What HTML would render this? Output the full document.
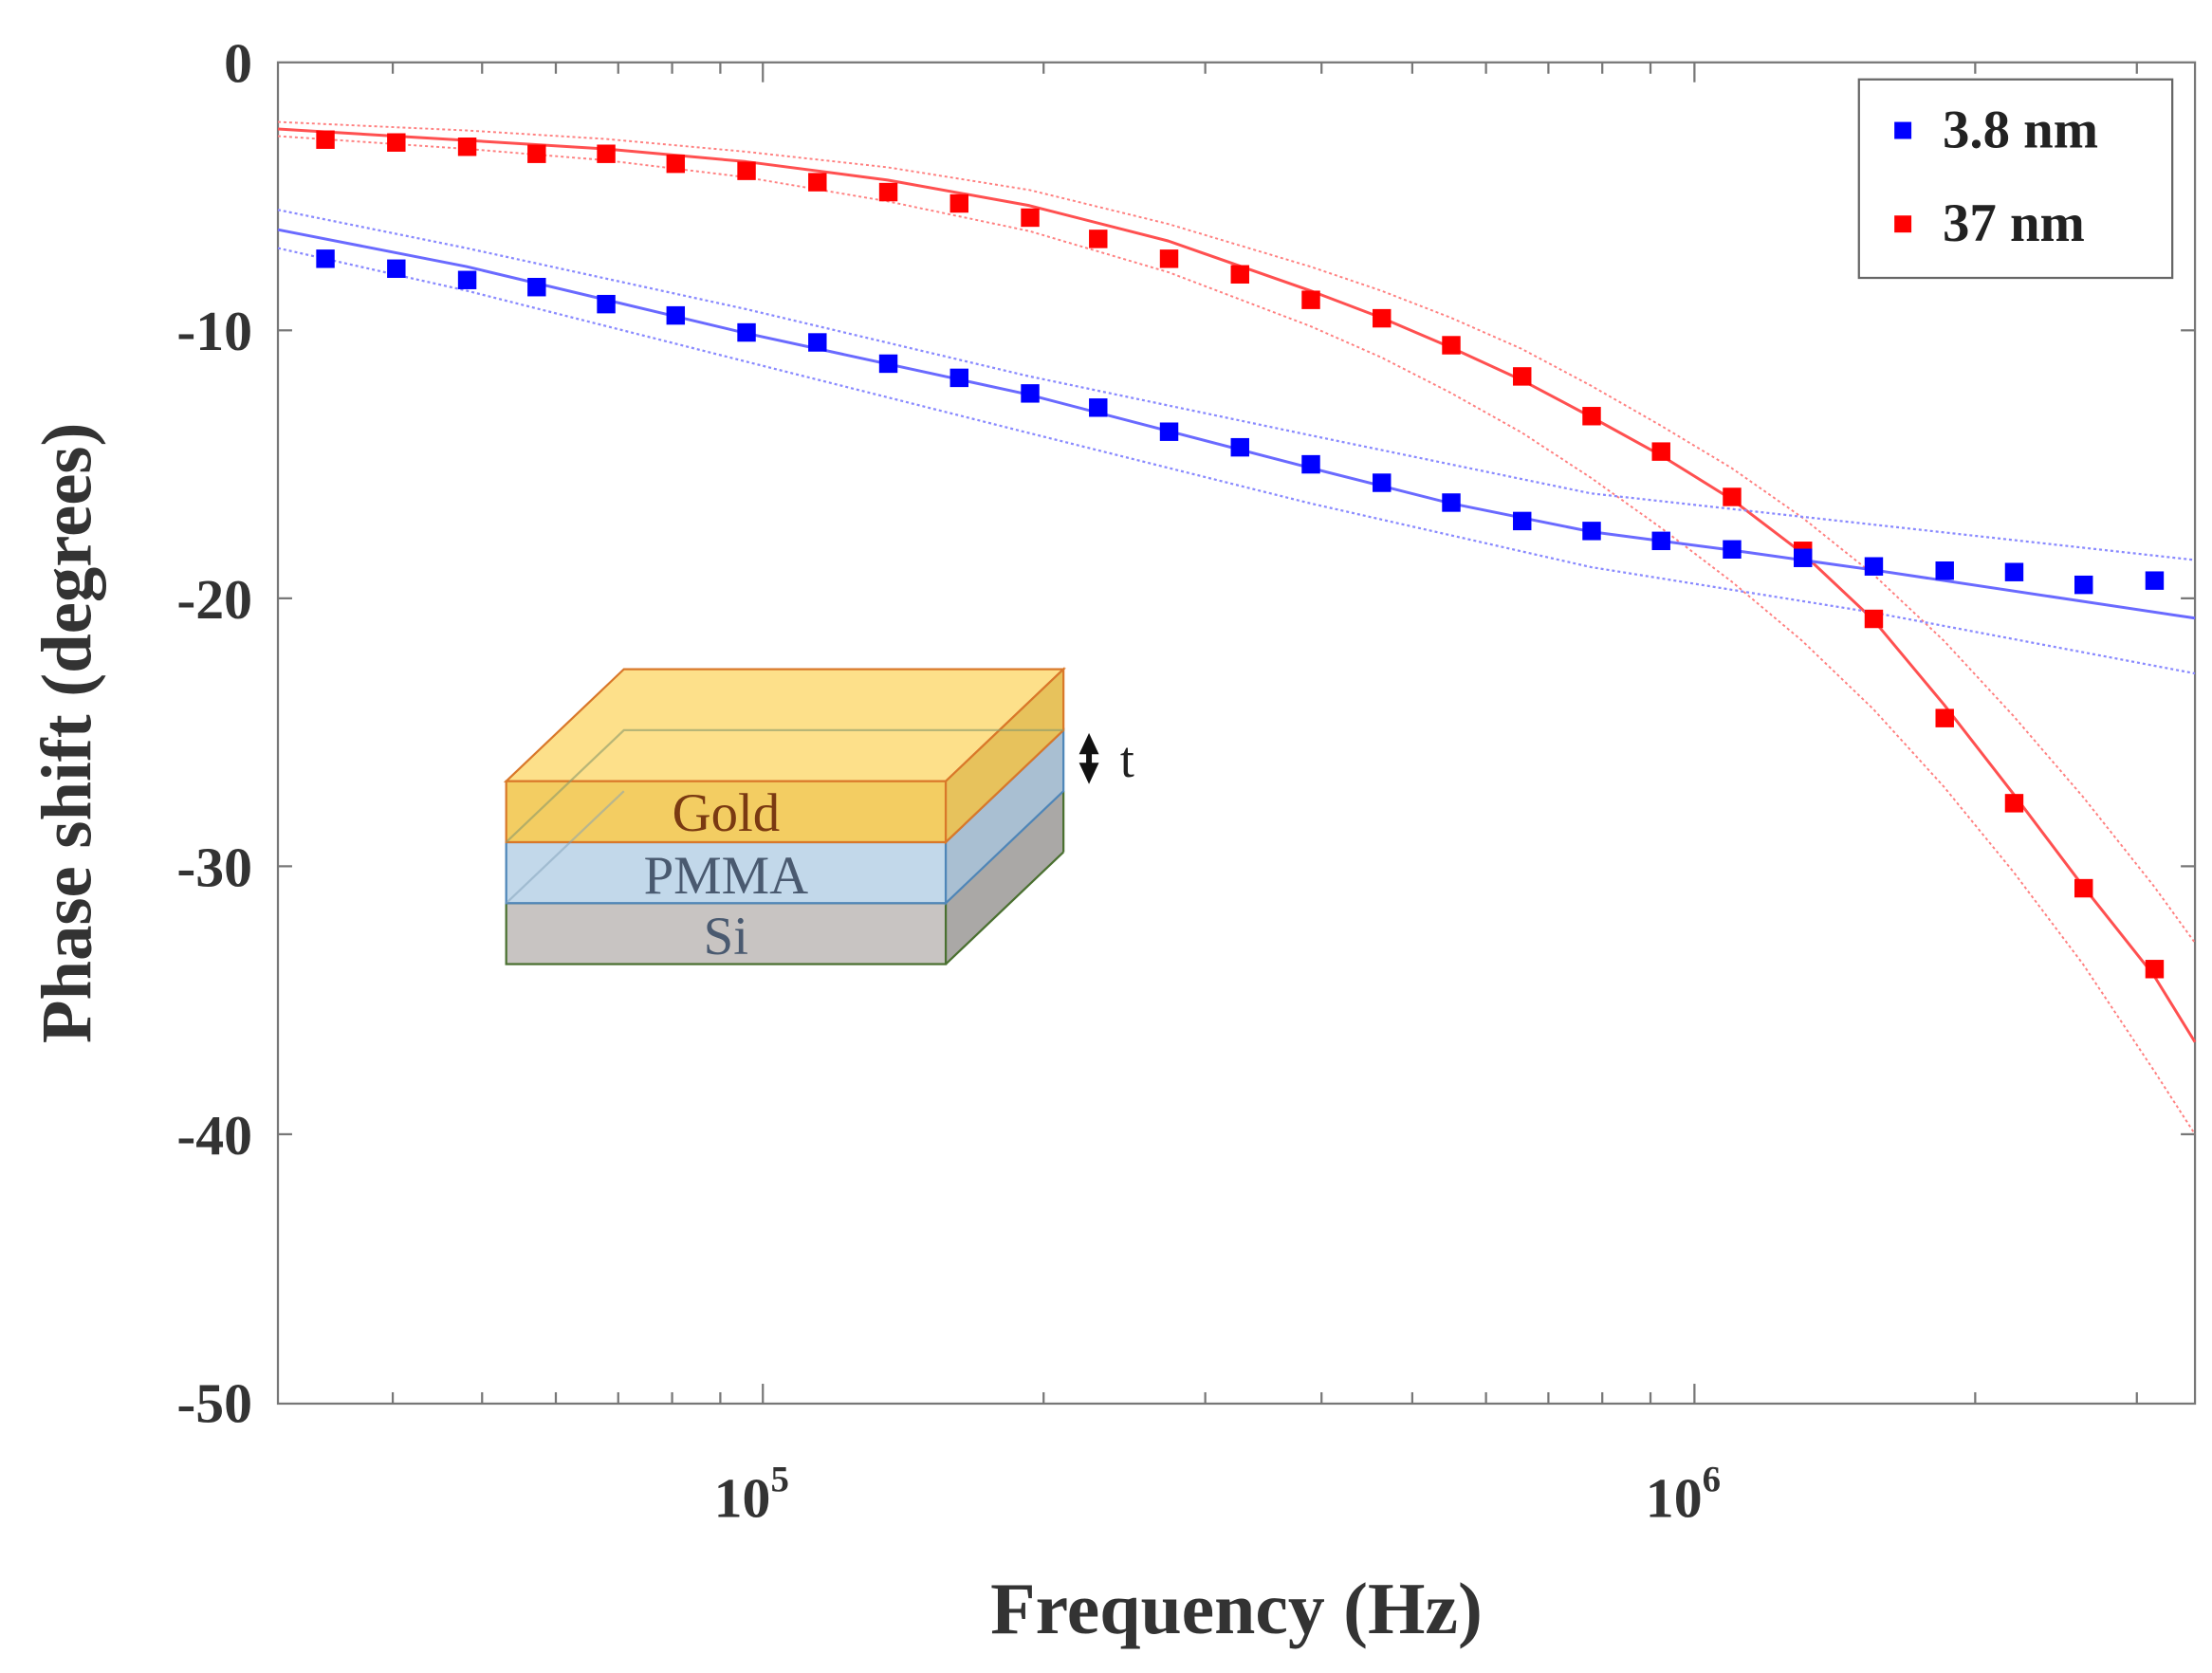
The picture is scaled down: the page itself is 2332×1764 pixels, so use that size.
<!DOCTYPE html>
<html><head><meta charset="utf-8"><style>
html,body{margin:0;padding:0;background:#fff;}
svg{display:block;}
text{font-family:"Liberation Serif",serif;font-weight:bold;fill:#333;}
</style></head><body>
<svg width="2332" height="1764" viewBox="0 0 1560 1180" preserveAspectRatio="none" xmlns="http://www.w3.org/2000/svg">
<rect x="0" y="0" width="1560" height="1180" fill="#fff"/>
<rect x="196" y="44" width="1352" height="946" fill="none" stroke="#777" stroke-width="1.5"/>
<g stroke="#777" stroke-width="1.5">
<line x1="196" y1="233" x2="206" y2="233"/><line x1="196" y1="422" x2="206" y2="422"/><line x1="196" y1="611" x2="206" y2="611"/><line x1="196" y1="800" x2="206" y2="800"/>
<line x1="1538" y1="233" x2="1548" y2="233"/><line x1="1538" y1="422" x2="1548" y2="422"/><line x1="1538" y1="611" x2="1548" y2="611"/><line x1="1538" y1="800" x2="1548" y2="800"/>
<line x1="538" y1="990" x2="538" y2="976"/><line x1="1195" y1="990" x2="1195" y2="976"/>
<line x1="538" y1="44" x2="538" y2="58"/><line x1="1195" y1="44" x2="1195" y2="58"/>
<line x1="277" y1="990" x2="277" y2="982"/><line x1="340" y1="990" x2="340" y2="982"/><line x1="392" y1="990" x2="392" y2="982"/><line x1="436" y1="990" x2="436" y2="982"/><line x1="474" y1="990" x2="474" y2="982"/><line x1="508" y1="990" x2="508" y2="982"/>
<line x1="736" y1="990" x2="736" y2="982"/><line x1="850" y1="990" x2="850" y2="982"/><line x1="932" y1="990" x2="932" y2="982"/><line x1="996" y1="990" x2="996" y2="982"/><line x1="1048" y1="990" x2="1048" y2="982"/><line x1="1092" y1="990" x2="1092" y2="982"/><line x1="1130" y1="990" x2="1130" y2="982"/><line x1="1164" y1="990" x2="1164" y2="982"/>
<line x1="1393" y1="990" x2="1393" y2="982"/><line x1="1507" y1="990" x2="1507" y2="982"/>
<line x1="277" y1="44" x2="277" y2="52"/><line x1="340" y1="44" x2="340" y2="52"/><line x1="392" y1="44" x2="392" y2="52"/><line x1="436" y1="44" x2="436" y2="52"/><line x1="474" y1="44" x2="474" y2="52"/><line x1="508" y1="44" x2="508" y2="52"/>
<line x1="736" y1="44" x2="736" y2="52"/><line x1="850" y1="44" x2="850" y2="52"/><line x1="932" y1="44" x2="932" y2="52"/><line x1="996" y1="44" x2="996" y2="52"/><line x1="1048" y1="44" x2="1048" y2="52"/><line x1="1092" y1="44" x2="1092" y2="52"/><line x1="1130" y1="44" x2="1130" y2="52"/><line x1="1164" y1="44" x2="1164" y2="52"/>
<line x1="1393" y1="44" x2="1393" y2="52"/><line x1="1507" y1="44" x2="1507" y2="52"/>
</g>
<g font-size="40" text-anchor="end">
<text x="178" y="58">0</text>
<text x="178" y="247">-10</text>
<text x="178" y="436">-20</text>
<text x="178" y="625">-30</text>
<text x="178" y="814">-40</text>
<text x="178" y="1003">-50</text>
</g>
<g font-size="40" text-anchor="middle">
<text x="530" y="1070">10<tspan font-size="26" dy="-18">5</tspan></text>
<text x="1187" y="1070">10<tspan font-size="26" dy="-18">6</tspan></text>
</g>
<text x="872" y="1152" font-size="52" text-anchor="middle">Frequency (Hz)</text>
<text transform="translate(64,517) rotate(-90)" font-size="50" text-anchor="middle">Phase shift (degrees)</text>

<g stroke-width="1.5">
<polygon points="357,680 667,680 750,601 750,558 667,637 357,637" fill="#c4c0bd" stroke="none"/>
<polygon points="667,637 750,558 750,601 667,680" fill="#aaa8a6"/>
<rect x="357" y="637" width="310" height="43" fill="#c8c4c2" stroke="#4a7030"/>
<line x1="667" y1="680" x2="750" y2="601" stroke="#4a7030"/><line x1="750" y1="601" x2="750" y2="558" stroke="#4a7030"/>
<rect x="357" y="594" width="310" height="43" fill="#c2d8ea" stroke="#4f86b8"/>
<polygon points="667,594 750,515 750,558 667,637" fill="#a9bfd2" stroke="#4f86b8"/>
<polygon points="357,551 440,472 750,472 667,551" fill="#fde08a" stroke="#d9782a"/>
<rect x="357" y="551" width="310" height="43" fill="#f3cd62" stroke="#d9782a"/>
<polygon points="667,551 750,472 750,515 667,594" fill="#e7c25c" stroke="#d9782a"/>
<polyline points="357,594 440,515 750,515" fill="none" stroke="#8a9a6a" stroke-opacity="0.6"/>
<line x1="357" y1="637" x2="440" y2="558" stroke="#7f9fb8" stroke-opacity="0.5"/>
</g>
<text x="512" y="586" font-size="38" text-anchor="middle" style="fill:#7a3a12;font-weight:normal">Gold</text>
<text x="512" y="630" font-size="38" text-anchor="middle" style="fill:#4a5a70;font-weight:normal">PMMA</text>
<text x="512" y="673" font-size="38" text-anchor="middle" style="fill:#4a5a70;font-weight:normal">Si</text>
<polygon points="768,517 761,532 775,532" fill="#111"/>
<polygon points="768,553 761,538 775,538" fill="#111"/>
<rect x="766" y="530" width="4" height="10" fill="#111"/>
<text x="790" y="548" font-size="36" style="fill:#222;font-weight:normal">t</text>

<g fill="none" stroke-linejoin="round">
<polyline stroke="#ff8080" stroke-width="1.3" stroke-dasharray="2,2" points="196,86 329,92 427,98 526,107 626,118 726,134 824,158 924,188 974,205 1023,224 1073,246 1122,272 1171,300 1221,330 1271,365 1321,405 1371,452 1420,505 1469,562 1519,625 1548,665"/>
<polyline stroke="#ff8080" stroke-width="1.3" stroke-dasharray="2,2" points="196,96 329,105 427,113 526,125 626,142 726,163 824,192 924,230 974,252 1023,277 1073,305 1122,337 1171,372 1221,410 1271,452 1321,500 1371,555 1420,615 1469,680 1519,755 1548,800"/>
<polyline stroke="#ff5050" stroke-width="2" points="196,91 229,93 329,99 427,105 526,114 626,127 726,145 824,170 924,205 974,224 1023,245 1073,268 1122,294 1171,321 1221,352 1271,390 1321,437 1371,497 1420,560 1469,625 1519,688 1548,735"/>
<polyline stroke="#8a8aff" stroke-width="1.5" stroke-dasharray="2,2" points="196,148 329,175 526,218 724,265 924,307 1122,348 1321,370 1548,395"/>
<polyline stroke="#8a8aff" stroke-width="1.5" stroke-dasharray="2,2" points="196,175 329,205 526,255 724,305 924,355 1122,400 1321,432 1548,475"/>
<polyline stroke="#6a6aff" stroke-width="2" points="196,162 329,188 526,235 724,278 924,330 1023,355 1122,375 1221,388 1321,402 1548,436"/>
</g>
<g fill="#ff0000">
<rect x="223" y="92" width="13" height="13"/><rect x="273" y="94" width="13" height="13"/><rect x="323" y="97" width="13" height="13"/><rect x="372" y="102" width="13" height="13"/><rect x="421" y="102" width="13" height="13"/><rect x="470" y="109" width="13" height="13"/><rect x="520" y="114" width="13" height="13"/><rect x="570" y="122" width="13" height="13"/><rect x="620" y="129" width="13" height="13"/><rect x="670" y="137" width="13" height="13"/><rect x="720" y="147" width="13" height="13"/><rect x="768" y="162" width="13" height="13"/><rect x="818" y="176" width="13" height="13"/><rect x="868" y="187" width="13" height="13"/><rect x="918" y="205" width="13" height="13"/><rect x="968" y="218" width="13" height="13"/><rect x="1017" y="237" width="13" height="13"/><rect x="1067" y="259" width="13" height="13"/><rect x="1116" y="287" width="13" height="13"/><rect x="1165" y="312" width="13" height="13"/><rect x="1215" y="344" width="13" height="13"/><rect x="1265" y="382" width="13" height="13"/><rect x="1315" y="430" width="13" height="13"/><rect x="1365" y="500" width="13" height="13"/><rect x="1414" y="560" width="13" height="13"/><rect x="1463" y="620" width="13" height="13"/><rect x="1513" y="677" width="13" height="13"/>
</g>
<g fill="#0000ff">
<rect x="223" y="176" width="13" height="13"/><rect x="273" y="183" width="13" height="13"/><rect x="323" y="191" width="13" height="13"/><rect x="372" y="196" width="13" height="13"/><rect x="421" y="208" width="13" height="13"/><rect x="470" y="216" width="13" height="13"/><rect x="520" y="228" width="13" height="13"/><rect x="570" y="235" width="13" height="13"/><rect x="620" y="250" width="13" height="13"/><rect x="670" y="260" width="13" height="13"/><rect x="720" y="271" width="13" height="13"/><rect x="768" y="281" width="13" height="13"/><rect x="818" y="298" width="13" height="13"/><rect x="868" y="309" width="13" height="13"/><rect x="918" y="321" width="13" height="13"/><rect x="968" y="334" width="13" height="13"/><rect x="1017" y="348" width="13" height="13"/><rect x="1067" y="361" width="13" height="13"/><rect x="1116" y="368" width="13" height="13"/><rect x="1165" y="375" width="13" height="13"/><rect x="1215" y="381" width="13" height="13"/><rect x="1265" y="387" width="13" height="13"/><rect x="1315" y="393" width="13" height="13"/><rect x="1365" y="396" width="13" height="13"/><rect x="1414" y="397" width="13" height="13"/><rect x="1463" y="406" width="13" height="13"/><rect x="1513" y="403" width="13" height="13"/>
</g>
<rect x="1311" y="56" width="221" height="140" fill="#fff" stroke="#666" stroke-width="1.5"/>
<rect x="1336" y="86" width="12" height="12" fill="#0000ff"/>
<rect x="1336" y="152" width="12" height="12" fill="#ff0000"/>
<text x="1370" y="104" font-size="38" style="fill:#222">3.8 nm</text>
<text x="1370" y="170" font-size="38" style="fill:#222">37 nm</text>
</svg>
</body></html>
